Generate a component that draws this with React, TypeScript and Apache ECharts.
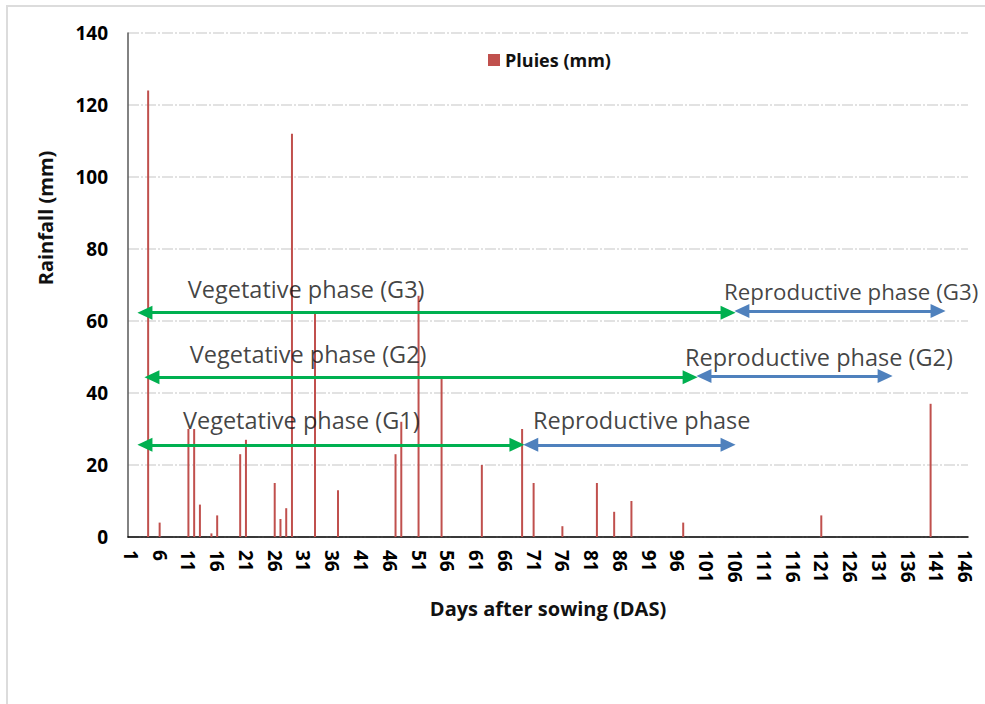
import React, { useEffect, useRef } from "react";
import * as echarts from "echarts";

// Days after sowing (category labels 1..146)
const dayCount = 146;
const days: string[] = Array.from({ length: dayCount }, (_, i) => String(i + 1));

// Rainfall events (day, mm)
const rainDays = [4, 6, 11, 12, 13, 15, 16, 20, 21, 26, 27, 28, 29, 33, 37, 47, 48, 51, 55, 62, 69, 71, 76, 82, 85, 88, 97, 121, 140];
const rainValues = [124, 4, 30, 30, 9, 1, 6, 23, 27, 15, 5, 8, 112, 62, 13, 23, 32, 67, 44, 20, 30, 15, 3, 15, 7, 10, 4, 6, 37];

// Phase arrows (tips in day units) and their level (mm)
const phaseStart = [2.24, 106.0, 3.46, 99.4, 2.24, 69.3];
const phaseEnd = [106.0, 142.5, 99.4, 133.3, 69.3, 106.0];
const phaseLevel = [62.3, 62.8, 44.4, 44.7, 25.6, 25.6];
const phaseKind = ["veg", "rep", "veg", "rep", "veg", "rep"];

// Phase annotation texts
const noteTexts = [
  "Vegetative phase (G3)",
  "Reproductive phase (G3)",
  "Vegetative phase (G2)",
  "Reproductive phase (G2)",
  "Vegetative phase (G1)",
  "Reproductive phase",
];
const noteDays = [10.9, 104.1, 11.25, 97.3, 10.05, 70.9];
const noteLevels = [68.9, 68.3, 50.8, 50.0, 32.5, 32.5];
const noteSizes = [23.5, 22.3, 23.5, 23.5, 23.5, 23.5];

const RED = "#C0504D";
const GREEN = "#00B050";
const BLUE = "#4F81BD";
const FONT = "Open Sans";

export default function App() {
  const ref = useRef<HTMLDivElement>(null);

  useEffect(() => {
    if (!ref.current) return;
    const chart = echarts.init(ref.current, undefined, { renderer: "svg" });

    const barData: (number | null)[] = days.map(() => null);
    rainDays.forEach((d, i) => {
      barData[d - 1] = rainValues[i];
    });

    const headShift = 1.2; // half arrow-head length in day units
    const markLines = phaseStart.map((s, i) => [
      {
        coord: [s + headShift, phaseLevel[i]],
        lineStyle: { color: phaseKind[i] === "veg" ? GREEN : BLUE, width: 3, type: "solid" },
        itemStyle: { color: phaseKind[i] === "veg" ? GREEN : BLUE },
      },
      { coord: [phaseEnd[i] - headShift, phaseLevel[i]] },
    ]);

    const noteData = noteTexts.map((t, i) => ({
      value: [noteDays[i], noteLevels[i]],
      name: t,
      label: { fontSize: noteSizes[i] },
    }));

    chart.setOption({
      animation: false,
      backgroundColor: "#ffffff",
      textStyle: { fontFamily: FONT },
      grid: { left: 128, right: 17, top: 33, bottom: 167, containLabel: false },
      legend: {
        data: ["Pluies (mm)"],
        left: 483,
        top: 46,
        icon: "rect",
        itemWidth: 12,
        itemHeight: 12,
        itemGap: 4,
        textStyle: { fontWeight: "bold", fontSize: 18, color: "#111", fontFamily: FONT },
      },
      xAxis: [
        {
          type: "category",
          data: days,
          boundaryGap: true,
          axisTick: { show: false },
          axisLine: { lineStyle: { color: "#000", width: 1.5 } },
          axisLabel: {
            interval: 4,
            rotate: -90,
            margin: 13,
            fontWeight: "bold",
            fontSize: 19,
            color: "#000",
            fontFamily: FONT,
          },
          splitLine: { show: false },
        },
        { type: "value", min: 0.5, max: 146.5, show: false },
      ],
      yAxis: {
        type: "value",
        min: 0,
        max: 140,
        interval: 20,
        axisLine: { show: true, lineStyle: { color: "#595959", width: 1.5 } },
        axisTick: { show: false },
        axisLabel: { margin: 20, fontWeight: "bold", fontSize: 19, color: "#000", fontFamily: FONT },
        splitLine: { lineStyle: { color: "#d9d9d9", width: 1.5, type: [11, 2, 2, 2] } },
      },
      series: [
        {
          name: "Pluies (mm)",
          type: "bar",
          data: barData,
          barWidth: 2,
          itemStyle: { color: RED },
        },
        {
          name: "phases",
          type: "scatter",
          xAxisIndex: 1,
          yAxisIndex: 0,
          symbolSize: 0,
          data: noteData,
          label: {
            show: true,
            position: "right",
            distance: 0,
            formatter: "{b}",
            fontSize: 23.5,
            color: "#111",
            fontFamily: FONT,
          },
          markLine: {
            silent: true,
            symbol: ["triangle", "triangle"],
            symbolSize: [14, 15],
            label: { show: false },
            data: markLines,
          },
        },
      ],
      graphic: [
        {
          type: "rect",
          shape: { x: 7, y: 6, width: 1100, height: 800 },
          style: { fill: "none", stroke: "#dcdcdc", lineWidth: 2 },
          silent: true,
        },
        {
          type: "text",
          x: 45,
          y: 218,
          rotation: Math.PI / 2,
          style: {
            text: "Rainfall (mm)",
            fontSize: 20,
            fontWeight: "bold",
            fill: "#111",
            fontFamily: FONT,
            textAlign: "center",
            textVerticalAlign: "middle",
          },
        },
        {
          type: "text",
          x: 548,
          y: 608,
          style: {
            text: "Days after sowing (DAS)",
            fontSize: 20,
            fontWeight: "bold",
            fill: "#111",
            fontFamily: FONT,
            textAlign: "center",
            textVerticalAlign: "middle",
          },
        },
      ],
    });

    return () => chart.dispose();
  }, []);

  return (
    <div
      ref={ref}
      style={{ position: "fixed", left: 0, top: 0, width: 985, height: 704 }}
    />
  );
}
